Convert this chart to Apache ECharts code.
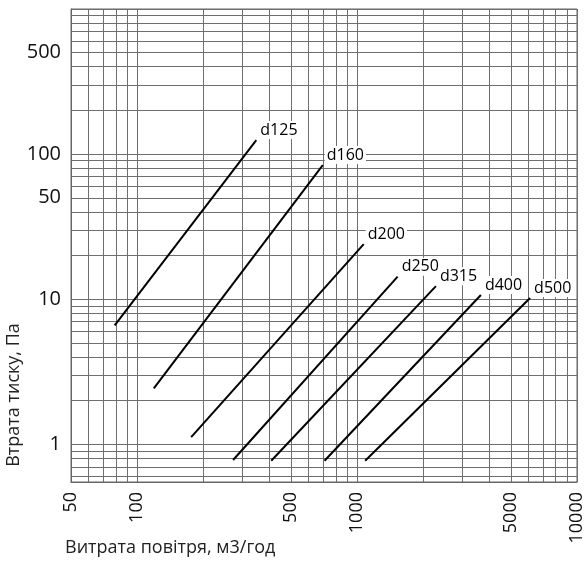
<!DOCTYPE html>
<html>
<head>
<meta charset="utf-8">
<script src="https://cdn.jsdelivr.net/npm/echarts@6/dist/echarts.min.js"></script>
<style>
  html, body { margin: 0; padding: 0; background: #fff; }
  #chart { width: 586px; height: 570px; }
</style>
</head>
<body>
<div id="chart"></div>
<script>
// air flow, m3/h  /  pressure loss, Pa  (start and end of each duct line)
var d125 = [[79, 6.6], [348, 125]];
var d160 = [[119, 2.43], [698, 84]];
var d200 = [[176, 1.12], [1072, 24]];
var d250 = [[273, 0.78], [1529, 14.3]];
var d315 = [[407, 0.77], [2283, 12.3]];
var d400 = [[711, 0.77], [3655, 10.7]];
var d500 = [[1088, 0.77], [6120, 10.2]];

var ductNames = ['d125', 'd160', 'd200', 'd250', 'd315', 'd400', 'd500'];
var ductData = [d125, d160, d200, d250, d315, d400, d500];

var xLabels = [50, 100, 500, 1000, 5000, 10000];
var yLabels = [1, 10, 50, 100, 500];

// grid lines of the log paper
var xGrid = [50, 60, 70, 80, 90, 100, 200, 300, 400, 500, 600, 700, 800, 900,
  1000, 2000, 3000, 4000, 5000, 6000, 7000, 8000, 9000, 10000];
var yGrid = [0.6, 0.7, 0.8, 0.9, 1, 2, 3, 4, 5, 6, 7, 8, 9, 10, 20, 30, 40, 50, 60,
  70, 80, 90, 100, 200, 300, 400, 500, 600, 700, 800, 900, 1000];

var chart = echarts.init(document.getElementById('chart'));

var font = '"Open Sans", "Noto Sans", sans-serif';

var series = ductNames.map(function (name, i) {
  return {
    name: name,
    type: 'line',
    data: ductData[i],
    symbol: 'none',
    lineStyle: { color: '#000', width: 2 },
    endLabel: {
      show: true,
      formatter: '{a}',
      distance: 2,
      offset: [0, -10],
      color: '#000',
      fontSize: 16,
      fontFamily: font,
      backgroundColor: '#fff',
      padding: [1, 2]
    },
    silent: true
  };
});

chart.setOption({
  animation: false,
  grid: {
    left: 71,
    right: 8,
    top: 9,
    bottom: 88,
    show: true,
    borderColor: '#666',
    borderWidth: 1
  },
  xAxis: {
    type: 'log',
    min: 50,
    max: 10000,
    axisLine: { show: true, lineStyle: { color: '#666' } },
    axisTick: { show: false, customValues: xGrid },
    splitLine: { show: true, lineStyle: { color: '#6e6e6e', width: 1 } },
    axisLabel: {
      customValues: xLabels,
      rotate: 90,
      margin: 10,
      fontSize: 18,
      fontFamily: font,
      color: '#111',
      formatter: function (v) { return String(v); }
    }
  },
  yAxis: {
    type: 'log',
    min: 0.55,
    max: 1000,
    axisLine: { show: true, lineStyle: { color: '#666' } },
    axisTick: { show: false, customValues: yGrid },
    splitLine: { show: true, lineStyle: { color: '#6e6e6e', width: 1 } },
    axisLabel: {
      customValues: yLabels,
      margin: 10,
      fontSize: 20,
      fontFamily: font,
      color: '#111',
      formatter: function (v) { return String(v); }
    }
  },
  graphic: [
    {
      type: 'text',
      x: 14,
      y: 395,
      rotation: Math.PI / 2,
      style: {
        text: 'Втрата тиску, Па',
        textAlign: 'center',
        textVerticalAlign: 'middle',
        font: '18px ' + font,
        fill: '#222'
      }
    },
    {
      type: 'text',
      x: 65,
      y: 548,
      style: {
        text: 'Витрата повітря, м3/год',
        textAlign: 'left',
        textVerticalAlign: 'middle',
        font: '18px ' + font,
        fill: '#222'
      }
    }
  ],
  series: series
});
</script>
</body>
</html>
